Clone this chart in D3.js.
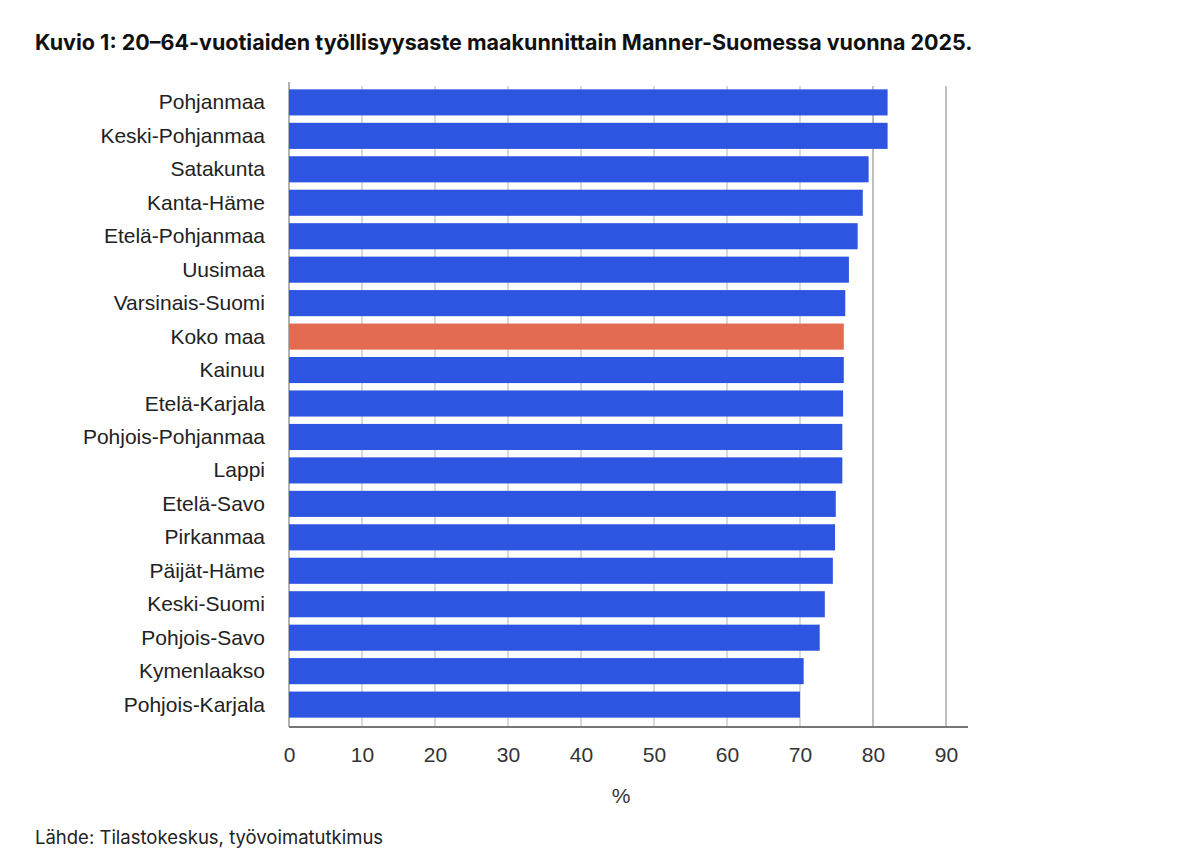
<!DOCTYPE html>
<html><head><meta charset="utf-8">
<script src="https://cdn.jsdelivr.net/npm/d3@7"></script>
<style>body{margin:0;background:#fff}</style>
</head><body>
<svg id="chart" width="1200" height="868"></svg>
<script>
// data
let regions = ["Pohjanmaa","Keski-Pohjanmaa","Satakunta","Kanta-Häme","Etelä-Pohjanmaa","Uusimaa","Varsinais-Suomi","Koko maa","Kainuu","Etelä-Karjala","Pohjois-Pohjanmaa","Lappi","Etelä-Savo","Pirkanmaa","Päijät-Häme","Keski-Suomi","Pohjois-Savo","Kymenlaakso","Pohjois-Karjala"];
let rates = [82.0,82.0,79.4,78.6,77.9,76.7,76.2,76.0,76.0,75.9,75.8,75.8,74.9,74.8,74.5,73.4,72.7,70.5,70.0];
let ticks = [0,10,20,30,40,50,60,70,80,90];

let svg = d3.select("#chart");
let plotLeft = 289, plotTop = 86, plotBottom = 727;

let x = d3.scaleLinear().domain([0, 90]).range([plotLeft, 946]);
let y = d3.scaleBand().domain(regions).range([plotTop, plotBottom - 6]).paddingInner(0.22).paddingOuter(0.1);

svg.append("text").attr("x", 35).attr("y", 50)
    .attr("font-family", "Inter, sans-serif").attr("font-weight", 700).attr("font-size", 21.5)
    .attr("fill", "#111")
    .text("Kuvio 1: 20–64-vuotiaiden työllisyysaste maakunnittain Manner-Suomessa vuonna 2025.");

// gridlines
svg.append("g").selectAll("line").data(ticks.slice(1)).join("line")
    .attr("x1", d => x(d)).attr("x2", d => x(d))
    .attr("y1", plotTop).attr("y2", plotBottom)
    .attr("stroke", d => d >= 80 ? "#aaa" : "#ccc").attr("stroke-width", 1.5);
svg.append("line").attr("x1", plotLeft).attr("x2", plotLeft).attr("y1", plotTop - 4).attr("y2", plotBottom)
    .attr("stroke", "#999").attr("stroke-width", 1.5);

// bars
svg.append("g").selectAll("rect").data(regions).join("rect")
    .attr("x", plotLeft).attr("y", d => y(d))
    .attr("width", (d, i) => x(rates[i]) - plotLeft).attr("height", y.bandwidth())
    .attr("fill", d => d === "Koko maa" ? "#e36b52" : "#2e55e2");

// category labels
svg.append("g").selectAll("text").data(regions).join("text")
    .attr("x", 265).attr("y", d => y(d) + y.bandwidth() / 2 + 7)
    .attr("text-anchor", "end").attr("font-family", "Liberation Sans, Arial, sans-serif")
    .attr("font-size", 21).attr("fill", "#222").text(d => d);

// x axis
let axis = svg.append("g").attr("transform", "translate(0," + plotBottom + ")")
    .call(d3.axisBottom(x).tickValues(ticks).tickSize(0).tickPadding(20));
axis.select(".domain").remove();
axis.selectAll("text").attr("font-family", "Liberation Sans, Arial, sans-serif")
    .attr("font-size", 21).attr("fill", "#333");
svg.append("line").attr("x1", plotLeft).attr("x2", 968).attr("y1", plotBottom).attr("y2", plotBottom)
    .attr("stroke", "#777").attr("stroke-width", 2);

svg.append("text").attr("x", 621).attr("y", 803).attr("text-anchor", "middle")
    .attr("font-family", "Liberation Sans, Arial, sans-serif").attr("font-size", 21).attr("fill", "#333").text("%");

svg.append("text").attr("x", 35).attr("y", 844)
    .attr("font-family", "Inter, sans-serif").attr("font-size", 18.5).attr("fill", "#222")
    .text("Lähde: Tilastokeskus, työvoimatutkimus");
</script>
</body></html>
